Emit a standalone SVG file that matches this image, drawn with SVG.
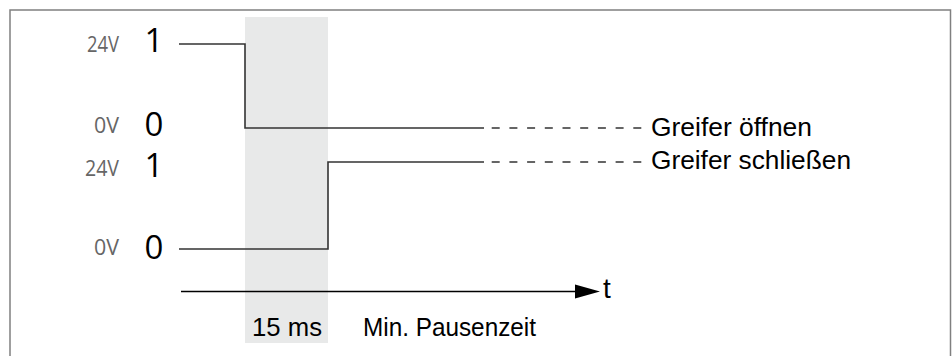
<svg xmlns="http://www.w3.org/2000/svg" width="952" height="356" viewBox="0 0 952 356">
<style>
.frame{fill:#fff;stroke:#808080;stroke-width:1.5}
.band{fill:#e8e9e9}
.sig{fill:none;stroke:#333;stroke-width:1.6}
.dash{fill:none;stroke:#333;stroke-width:1.4;stroke-dasharray:8 9.7}
.axis{fill:none;stroke:#000;stroke-width:1.5}
.volt{font-family:"Open Sans",sans-serif;font-size:21px;fill:#666;text-anchor:end}
.lvl{font-family:"Open Sans",sans-serif;font-size:33px;fill:#000;text-anchor:middle}
.lbl{font-family:"Liberation Sans",Arial,sans-serif;font-size:26px;fill:#000}
.tlbl{font-family:"Liberation Sans",Arial,sans-serif;font-size:28px;fill:#000}
</style>
<rect class="frame" x="10" y="10" width="940.5" height="360"/>
<rect id="pause-band" class="band" x="245" y="17" width="83" height="326"/>
<g id="levels">
<text class="volt" x="119" y="52" textLength="32" lengthAdjust="spacingAndGlyphs">24V</text>
<text class="lvl" x="154" y="52">1</text>
<text class="volt" x="119" y="133" textLength="25" lengthAdjust="spacingAndGlyphs">0V</text>
<text class="lvl" x="154" y="136">0</text>
<text class="volt" x="119" y="176" textLength="34" lengthAdjust="spacingAndGlyphs">24V</text>
<text class="lvl" x="154" y="177">1</text>
<text class="volt" x="119" y="255" textLength="25" lengthAdjust="spacingAndGlyphs">0V</text>
<text class="lvl" x="154" y="259">0</text>
</g>
<g id="connectors">
<path class="sig" d="M179,44 H245 V128 H484"/>
<path class="dash" d="M491.7,128 H642"/>
<path class="sig" d="M179,249 H328 V162 H484"/>
<path class="dash" d="M491.7,162 H642"/>
<path class="axis" d="M181,291.5 H577"/>
<polygon points="575,284.5 600,291.5 575,298.5" fill="#000"/>
</g>
<g id="signal-open"><text class="lbl" x="651" y="136" textLength="161" lengthAdjust="spacingAndGlyphs">Greifer öffnen</text></g>
<g id="signal-close"><text class="lbl" x="651" y="169" textLength="200" lengthAdjust="spacingAndGlyphs">Greifer schließen</text></g>
<g id="time-axis"><text class="tlbl" x="603" y="298">t</text></g>
<g id="pause-label">
<text class="lbl" x="252" y="336" textLength="70" lengthAdjust="spacingAndGlyphs">15 ms</text>
<text class="lbl" x="363" y="336" textLength="173" lengthAdjust="spacingAndGlyphs">Min. Pausenzeit</text>
</g>
</svg>
